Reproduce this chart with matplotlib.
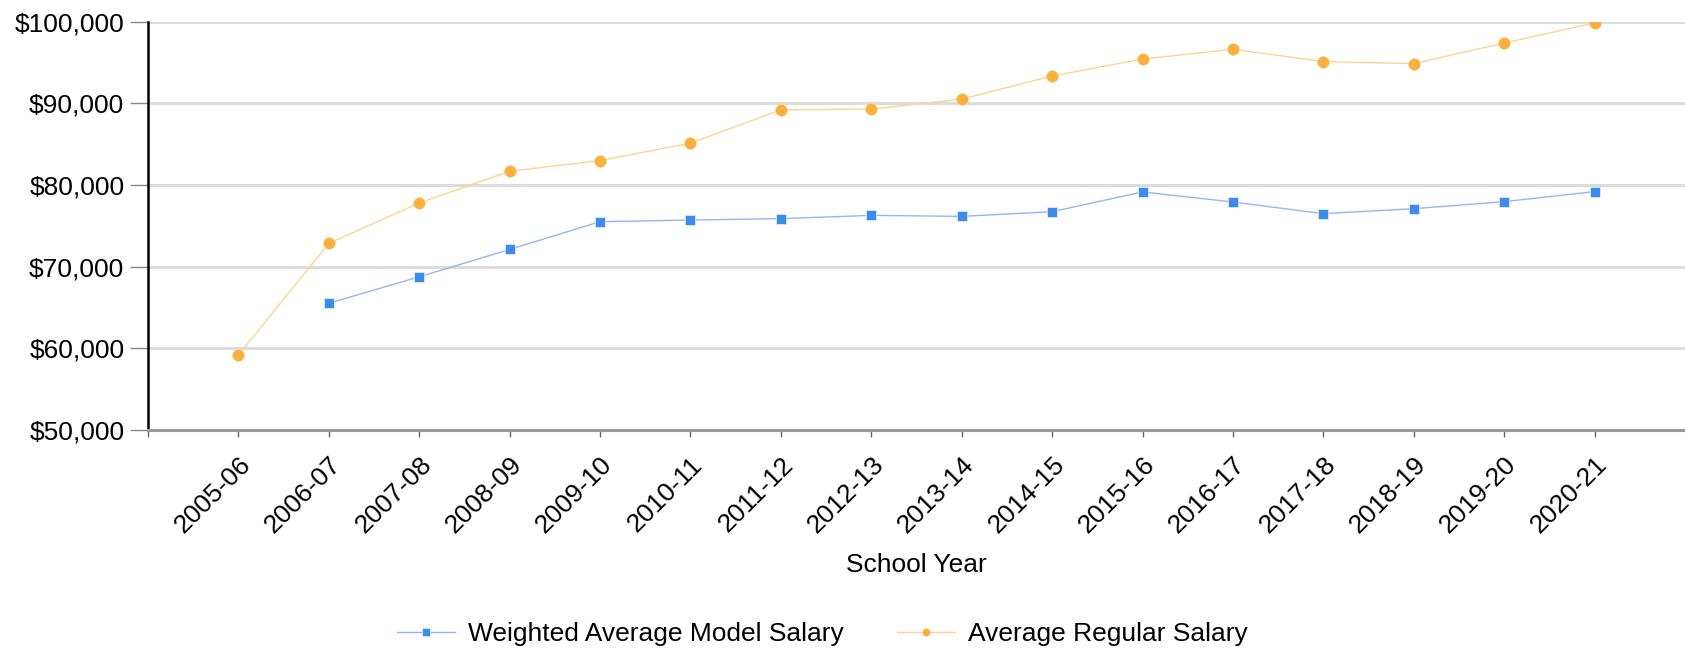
import matplotlib.pyplot as plt
import matplotlib.ticker as mticker
import numpy as np

plt.rcParams['font.family'] = ['Liberation Sans', 'DejaVu Sans']

# annees scolaires
years = ['2005-06', '2006-07', '2007-08', '2008-09', '2009-10', '2010-11',
         '2011-12', '2012-13', '2013-14', '2014-15', '2015-16', '2016-17',
         '2017-18', '2018-19', '2019-20', '2020-21']

# salaire modele pondere (pas de valeur pour 2005-06)
model_salary = [np.nan, 65520, 68750, 72100, 75500, 75700, 75870, 76270,
                76150, 76720, 79140, 77910, 76480, 77090, 77950, 79180]

# salaire regulier moyen
regular_salary = [59180, 72840, 77790, 81670, 82980, 85100, 89200, 89280,
                  90500, 93330, 95410, 96600, 95090, 94850, 97370, 99830]

x = np.arange(len(years))
fs = 19

fig = plt.figure(figsize=(16.85, 6.48), dpi=100)
ax = fig.add_axes([0.0878, 0.3364, 0.9122, 0.6304])

l1, = ax.plot(x, model_salary, color='#8fb8f2', lw=1.0, marker='s', ms=7.8,
              mfc='#3d8bea', mec='#dce9fb', mew=0.6, zorder=3)
l2, = ax.plot(x, regular_salary, color='#fdd48f', lw=1.0, marker='o', ms=8.6,
              mfc='#f9b03f', mec='#fbd9a0', mew=0.4, zorder=3)

ax.set_ylim(50000, 100000)
ax.set_xlim(-1, 16)
ax.yaxis.set_major_locator(mticker.MultipleLocator(10000))
ax.yaxis.set_major_formatter(mticker.FuncFormatter(lambda v, p: '${:,.0f}'.format(v)))

ax.set_xticks(np.arange(-1, len(years)))
ax.set_xticklabels([''] + years, rotation=45, ha='right', va='top',
                   rotation_mode='anchor')

ax.grid(axis='y', color='#dcdcdc', lw=2.2, zorder=0)
ax.set_axisbelow(True)

for s in ['top', 'right']:
    ax.spines[s].set_visible(False)
ax.spines['left'].set_color('black')
ax.spines['left'].set_linewidth(1.8)
ax.spines['bottom'].set_color('#9a9a9a')
ax.spines['bottom'].set_linewidth(2.2)

ax.tick_params(axis='y', length=13, width=1, color='#888888', labelsize=fs, pad=4)
ax.tick_params(axis='x', length=5, width=1, color='#666666', labelsize=fs, pad=11)

ax.set_xlabel('School Year', fontsize=fs, labelpad=11)

fig.legend([l1, l2], ['Weighted Average Model Salary', 'Average Regular Salary'],
           loc='center', bbox_to_anchor=(0.488, 0.022), ncol=2, frameon=False,
           fontsize=fs, handlelength=2.2, columnspacing=2.0, markerscale=0.65,
           handletextpad=0.5)

plt.savefig('out.png', dpi=100)
